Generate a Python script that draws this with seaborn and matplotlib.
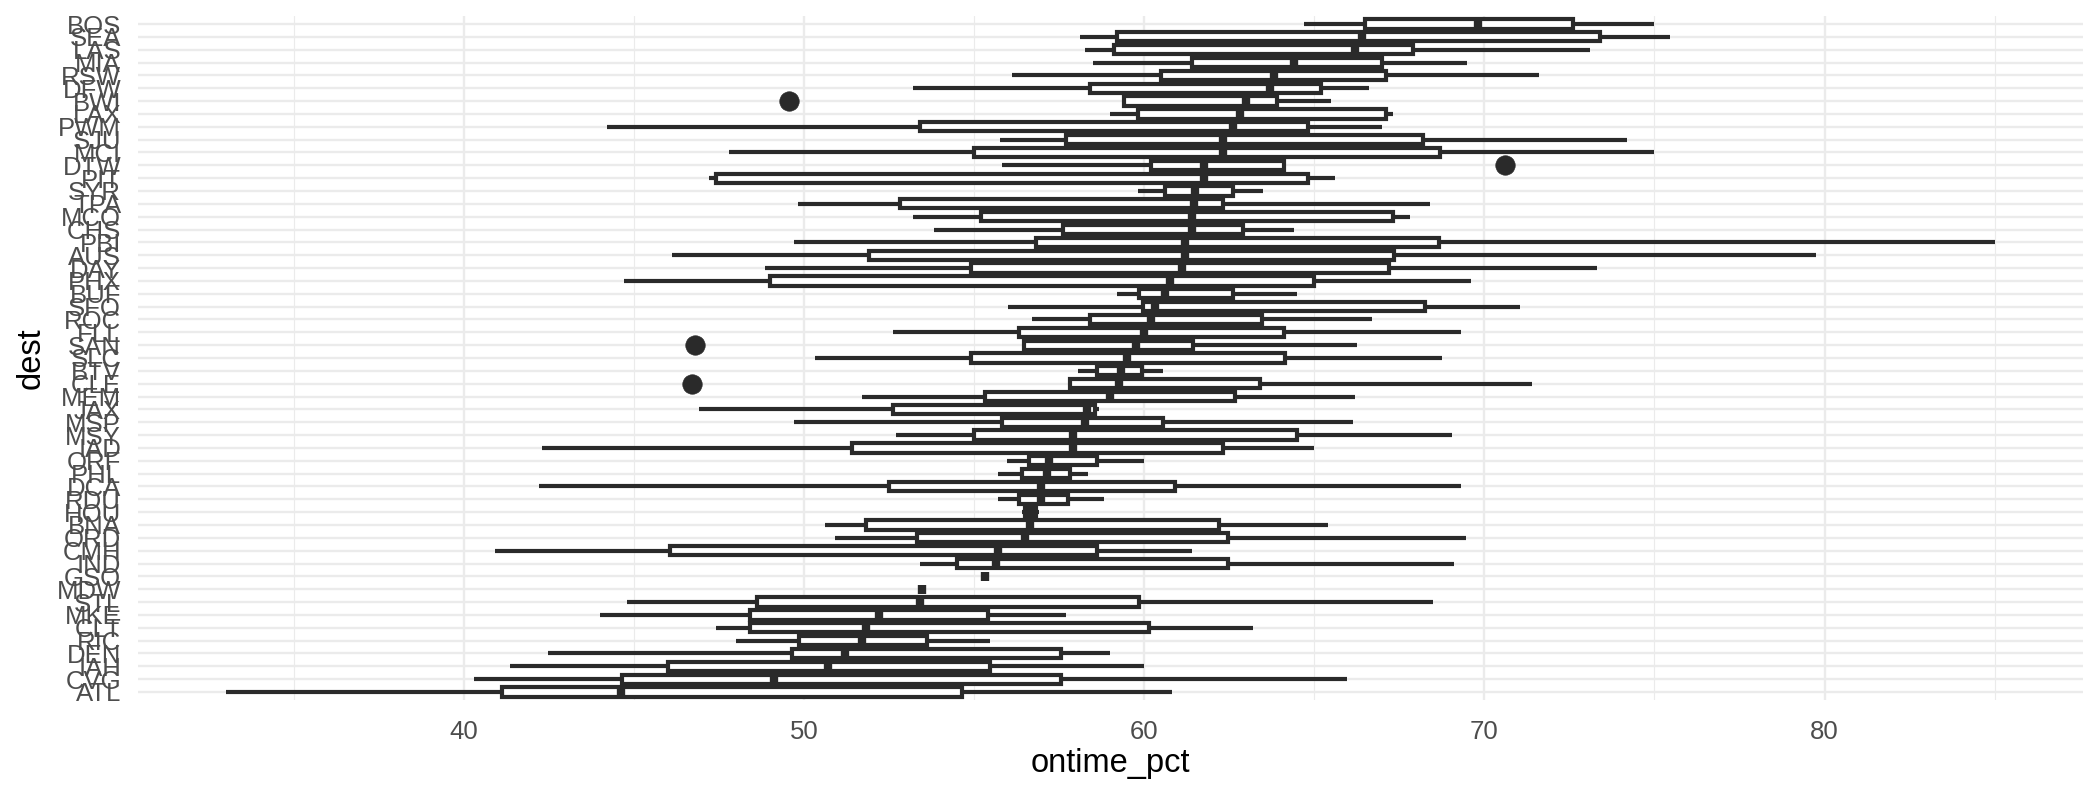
import numpy as np
import pandas as pd
import seaborn as sns
import matplotlib
matplotlib.use("Agg")
import matplotlib.pyplot as plt
from matplotlib.ticker import MultipleLocator

# destinations, ordered by median on-time percentage (top to bottom)
dest = ["BOS", "SEA", "LAS", "MIA", "RSW", "DFW", "BWI", "LAX", "PWM", "SJU",
        "MCI", "DTW", "PIT", "SYR", "TPA", "MCO", "CHS", "PBI", "AUS", "DAY",
        "PHX", "BUF", "SFO", "ROC", "FLL", "SAN", "SLC", "BTV", "CLE", "MEM",
        "JAX", "MSP", "MSY", "IAD", "ORF", "PHL", "DCA", "RDU", "HOU", "BNA",
        "ORD", "CMH", "IND", "GSO", "MDW", "STL", "MKE", "CLT", "RIC", "DEN",
        "IAH", "CVG", "ATL"]

# five-number summaries
lo = [64.7, 58.1, 58.25, 58.5, 56.1, 53.2, 59.4, 59.0, 44.2, 55.75,
      47.8, 55.8, 47.2, 59.8, 49.8, 53.2, 53.8, 49.7, 46.1, 48.85,
      44.7, 59.2, 56.0, 56.7, 52.6, 56.45, 50.3, 58.05, 57.8, 51.7,
      46.9, 49.7, 52.7, 42.3, 55.95, 55.7, 42.2, 55.7, 56.4, 50.6,
      50.9, 40.9, 53.4, 55.3, 53.45, 44.8, 44.0, 47.4, 48.0, 42.45,
      41.35, 40.3, 33.0]
q1 = [66.5, 59.2, 59.1, 61.4, 60.5, 58.4, 59.4, 59.8, 53.4, 57.7,
      55.0, 60.2, 47.4, 60.6, 52.8, 55.2, 57.6, 56.8, 51.9, 54.9,
      49.0, 59.85, 59.95, 58.4, 56.3, 56.45, 54.9, 58.6, 57.8, 55.3,
      52.6, 55.8, 55.0, 51.4, 56.6, 56.4, 52.5, 56.3, 56.5, 51.8,
      53.3, 46.05, 54.5, 55.3, 53.45, 48.6, 48.4, 48.4, 49.85, 49.65,
      46.0, 44.65, 41.1]
med = [69.8, 66.4, 66.2, 64.4, 63.8, 63.7, 63.0, 62.8, 62.6, 62.3,
       62.3, 61.75, 61.75, 61.5, 61.45, 61.4, 61.4, 61.2, 61.2, 61.1,
       60.75, 60.6, 60.3, 60.2, 60.0, 59.75, 59.5, 59.3, 59.25, 58.98,
       58.3, 58.26, 57.9, 57.9, 57.2, 57.15, 56.95, 56.95, 56.65, 56.65,
       56.5, 55.7, 55.65, 55.3, 53.45, 53.4, 52.2, 51.8, 51.7, 51.2,
       50.7, 49.1, 44.6]
q3 = [72.6, 73.4, 67.9, 67.0, 67.1, 65.2, 63.9, 67.1, 64.8, 68.2,
      68.7, 64.1, 64.8, 62.6, 62.3, 67.3, 62.9, 68.65, 67.35, 67.2,
      65.0, 62.6, 68.25, 63.45, 64.1, 61.42, 64.13, 59.93, 63.4, 62.65,
      58.55, 60.54, 64.5, 62.3, 58.6, 57.8, 60.9, 57.75, 56.8, 62.2,
      62.45, 58.6, 62.45, 55.3, 53.45, 59.85, 55.4, 60.15, 53.6, 57.55,
      55.45, 57.55, 54.65]
hi = [75.0, 75.45, 73.1, 69.5, 71.6, 66.6, 65.5, 67.3, 67.0, 74.2,
      75.0, 64.1, 65.6, 63.5, 68.4, 67.8, 64.4, 85.0, 79.75, 73.3,
      69.6, 64.5, 71.05, 66.7, 69.3, 66.25, 68.75, 60.54, 71.4, 66.2,
      58.68, 66.13, 69.05, 65.0, 60.0, 58.35, 69.3, 58.8, 56.9, 65.4,
      69.45, 61.4, 69.1, 55.3, 53.45, 68.5, 57.7, 63.2, 55.45, 59.0,
      60.0, 65.95, 60.8]
outliers = {"BWI": 49.55, "DTW": 70.6, "SAN": 46.8, "CLE": 46.7}

LINE = "#2a2a2a"
GRID = "#ebebeb"

# long table of observations reproducing the summaries
records = []
for i, d in enumerate(dest):
    if d in outliers:
        o = outliers[d]
        if o < q1[i]:
            vals = [o, lo[i], q1[i], q1[i], med[i], q3[i], q3[i], hi[i], hi[i]]
        else:
            vals = [lo[i], lo[i], q1[i], q1[i], med[i], q3[i], q3[i], hi[i], o]
    else:
        vals = [lo[i], q1[i], med[i], q3[i], hi[i]]
    for v in vals:
        records.append((d, v))
df = pd.DataFrame(records, columns=["dest", "ontime_pct"])

sns.set_style("white")
plt.rcParams["font.family"] = ["Liberation Sans", "DejaVu Sans"]

fig = plt.figure(figsize=(21, 7.95), dpi=100)
ax = fig.add_axes([0.0656, 0.1199, 0.9263, 0.8596])

sns.boxplot(data=df, x="ontime_pct", y="dest", order=dest, orient="y",
            color="white", linecolor=LINE, linewidth=3.0, width=0.72,
            showcaps=False, fliersize=14,
            flierprops=dict(marker="o", markerfacecolor=LINE,
                            markeredgecolor=LINE, markersize=14,
                            markeredgewidth=0.5),
            medianprops=dict(linewidth=6.0, color=LINE),
            ax=ax)

ax.set_xlim(30.4, 87.6)
ax.set_ylim(52.6, -0.6)
ax.xaxis.set_major_locator(MultipleLocator(10))
ax.xaxis.set_minor_locator(MultipleLocator(5))
ax.grid(True, which="major", axis="both", color=GRID, linewidth=1.7)
ax.grid(True, which="minor", axis="x", color=GRID, linewidth=0.85)
ax.set_axisbelow(True)
for s in ax.spines.values():
    s.set_visible(False)

ax.tick_params(axis="both", which="both", length=0, labelsize=18.5,
               labelcolor="#4d4d4d")
ax.tick_params(axis="x", pad=14.5)
ax.tick_params(axis="y", pad=12)

ax.set_xlabel("ontime_pct", fontsize=23.5, color="black")
ax.set_ylabel("dest", fontsize=23.5, color="black")
ax.xaxis.set_label_coords(0.5, -0.071)
ax.yaxis.set_label_coords(-0.0466, 0.5)

fig.savefig("out.png", dpi=100)
